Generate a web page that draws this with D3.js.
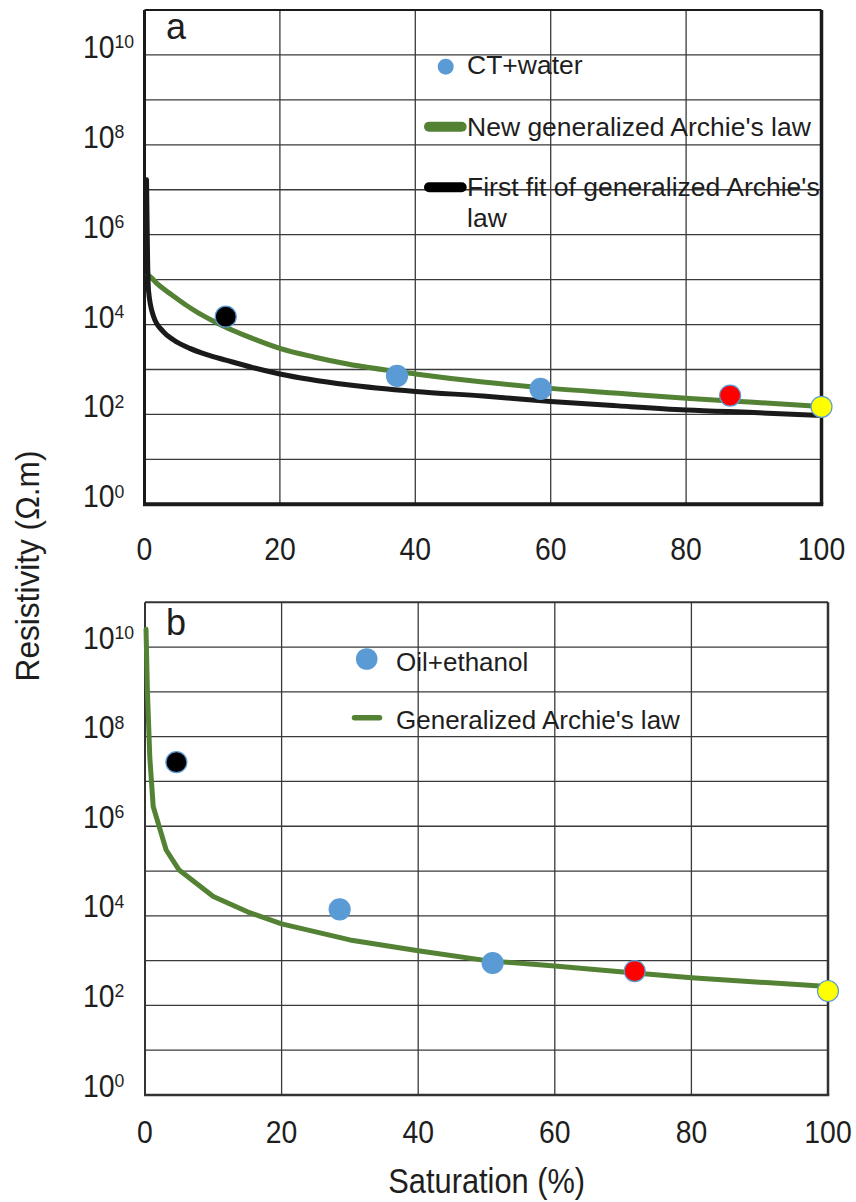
<!DOCTYPE html>
<html><head><meta charset="utf-8">
<script src="https://cdn.jsdelivr.net/npm/d3@7/dist/d3.min.js"></script>
<style>
body{margin:0;background:#fff}
svg{display:block}
text{font-family:"Liberation Sans",Arial,Helvetica,sans-serif;fill:#1e1e1e}
</style>
</head><body>
<svg id="chart" width="856" height="1202"></svg>
<script>
// ---------- data ----------
const xTickValues = [0, 20, 40, 60, 80, 100];
const yTickExponents = [0, 2, 4, 6, 8, 10];
const gridDecades = [1,2,3,4,5,6,7,8,9,10];
const gridSat = [20, 40, 60, 80];

// Panel a
const aPointSat   = [12, 37.3, 58.5, 86.5, 100];
const aPointRes   = [1.5e4, 720, 370, 263, 148];
const aPointColor = ["#000000", "#5b9bd5", "#5b9bd5", "#ff0000", "#ffff00"];
const aNewSat = [0.5, 1, 2, 4, 6, 8, 10, 12, 15, 20, 25, 30, 40, 50, 60, 70, 80, 90, 100];
const aNewRes = [1.26e5, 1.1e5, 7.8e4, 4.6e4, 2.8e4, 1.8e4, 1.23e4, 8.7e3, 5.6e3, 2.95e3, 1.9e3, 1.32e3, 795, 525, 380, 295, 229, 186, 151];
const aFirstSat = [0.3, 0.45, 0.6, 1.3, 2.8, 4.25, 6.7, 9.2, 12, 16, 20, 30, 40, 50, 60, 70, 80, 90, 100];
const aFirstRes = [1.66e7, 3.2e5, 5.6e4, 1.58e4, 6.9e3, 4.6e3, 2.95e3, 2.14e3, 1.62e3, 1.1e3, 795, 457, 324, 257, 195, 155, 126, 110, 95];

// Panel b
const bPointSat   = [4.6, 28.5, 50.9, 71.7, 100];
const bPointRes   = [2.7e7, 1.4e4, 884, 585, 210];
const bPointColor = ["#000000", "#5b9bd5", "#5b9bd5", "#ff0000", "#ffff00"];
const bGenSat = [0.15, 0.35, 0.7, 1.2, 3.1, 5, 10, 15, 20, 30, 40, 50, 60, 70, 80, 90, 100];
const bGenRes = [2.5e10, 1.1e9, 3.5e7, 2.75e6, 2.95e5, 1.05e5, 2.7e4, 1.23e4, 6.6e3, 2.9e3, 1.66e3, 1.0e3, 760, 560, 417, 331, 263];

// ---------- drawing ----------
const svg = d3.select("#chart");
const GREEN = "#548235", BLUE = "#5b9bd5";

function label(g, x, y, str, size, anchor, sx, rot) {
  return g.append("text")
    .attr("transform", `translate(${x},${y})` + (rot ? ` rotate(${rot})` : "") + ` scale(${sx||1},1)`)
    .attr("text-anchor", anchor || "start")
    .style("font-size", size + "px")
    .text(str);
}

function panel(cfg) {
  const g = svg.append("g");
  const x = d3.scaleLinear([0, 100], [cfg.x0, cfg.x1]);
  const y = d3.scaleLog([1, 1e11], [cfg.yb, cfg.yt]);

  // grid
  g.selectAll(".hg").data(gridDecades).join("line")
    .attr("x1", cfg.x0).attr("x2", cfg.x1)
    .attr("y1", d => y(Math.pow(10, d))).attr("y2", d => y(Math.pow(10, d)))
    .attr("stroke", "#3a3a3a").attr("stroke-width", 1.3);
  g.selectAll(".vg").data(gridSat).join("line")
    .attr("x1", d => x(d)).attr("x2", d => x(d))
    .attr("y1", cfg.yt).attr("y2", cfg.yb)
    .attr("stroke", "#3a3a3a").attr("stroke-width", 1.3);

  // frame
  const fr = cfg.frame;
  g.append("line").attr("x1", cfg.x0).attr("x2", cfg.x1).attr("y1", cfg.yt).attr("y2", cfg.yt)
    .attr("stroke", fr.color).attr("stroke-width", fr.top);
  g.append("line").attr("x1", cfg.x0).attr("x2", cfg.x0).attr("y1", cfg.yt).attr("y2", cfg.yb)
    .attr("stroke", fr.color).attr("stroke-width", fr.left);
  g.append("line").attr("x1", cfg.x1).attr("x2", cfg.x1).attr("y1", cfg.yt).attr("y2", cfg.yb)
    .attr("stroke", fr.color).attr("stroke-width", fr.right);
  g.append("line").attr("x1", cfg.x0 - fr.left/2).attr("x2", cfg.x1 + fr.right/2).attr("y1", cfg.yb).attr("y2", cfg.yb)
    .attr("stroke", fr.color).attr("stroke-width", fr.bottom);

  // y tick labels with superscripts
  yTickExponents.forEach(e => {
    const t = g.append("text")
      .attr("transform", `translate(83,${y(Math.pow(10, e)) + cfg.yLabOff}) scale(0.93,1)`)
      .style("font-size", "30.5px");
    t.append("tspan").text("10");
    t.append("tspan").attr("dy", -9.5).style("font-size", "19px").text(String(e));
  });
  // x tick labels
  xTickValues.forEach(v => label(g, x(v), cfg.xLabY, String(v), 30.5, "middle", 0.93));

  // curves
  cfg.curves.forEach(c => {
    const pts = c.sat.map((s, i) => [x(s), y(c.res[i])]);
    g.append("path")
      .attr("d", d3.line().curve(c.curve)(pts))
      .attr("fill", "none").attr("stroke", c.color).attr("stroke-width", 5)
      .attr("stroke-linejoin", "round").attr("stroke-linecap", "round");
  });

  // points
  g.selectAll(".pt").data(cfg.pSat).join("circle")
    .attr("cx", d => x(d)).attr("cy", (d, i) => y(cfg.pRes[i]))
    .attr("r", 10.5)
    .attr("fill", (d, i) => cfg.pCol[i])
    .attr("stroke", BLUE).attr("stroke-width", 1.2);

  // panel letter
  label(g, 166, cfg.letterY, cfg.letter, 36, "start");
  return { g, x, y };
}

panel({
  x0: 144.5, x1: 821.5, yt: 10, yb: 504.3, yLabOff: 3, xLabY: 559.5,
  frame: { color: "#1a1a1a", top: 2, left: 3, right: 3.5, bottom: 4 },
  curves: [
    { sat: aNewSat, res: aNewRes, color: GREEN, curve: d3.curveMonotoneX },
    { sat: aFirstSat, res: aFirstRes, color: "#1a1a1a", curve: d3.curveMonotoneX }
  ],
  pSat: aPointSat, pRes: aPointRes, pCol: aPointColor,
  letter: "a", letterY: 38.5
});

panel({
  x0: 145, x1: 828, yt: 602.3, yb: 1095, yLabOff: 1.5, xLabY: 1143.3,
  frame: { color: "#333", top: 2, left: 2, right: 2.5, bottom: 2.5 },
  curves: [
    { sat: bGenSat, res: bGenRes, color: GREEN, curve: d3.curveLinear }
  ],
  pSat: bPointSat, pRes: bPointRes, pCol: bPointColor,
  letter: "b", letterY: 635
});

// legend a
const la = svg.append("g");
la.append("circle").attr("cx", 445.7).attr("cy", 66.7).attr("r", 8).attr("fill", BLUE);
label(la, 467, 74, "CT+water", 26.5, "start");
la.append("line").attr("x1", 429).attr("x2", 461.7).attr("y1", 126.7).attr("y2", 126.7)
  .attr("stroke", GREEN).attr("stroke-width", 10).attr("stroke-linecap", "round");
label(la, 467, 135.5, "New generalized Archie's law", 26.5, "start");
la.append("line").attr("x1", 429).attr("x2", 461.7).attr("y1", 187.3).attr("y2", 187.3)
  .attr("stroke", "#000").attr("stroke-width", 10).attr("stroke-linecap", "round");
label(la, 467, 196, "First fit of generalized Archie's", 26.5, "start");
label(la, 467, 226.5, "law", 26.5, "start");

// legend b
const lb = svg.append("g");
lb.append("circle").attr("cx", 366.7).attr("cy", 659).attr("r", 10.8).attr("fill", BLUE);
label(lb, 396, 671, "Oil+ethanol", 26, "start");
lb.append("line").attr("x1", 354.5).attr("x2", 379.5).attr("y1", 717.7).attr("y2", 717.7)
  .attr("stroke", GREEN).attr("stroke-width", 5.5).attr("stroke-linecap", "round");
label(lb, 396, 728.5, "Generalized Archie's law", 26, "start");

// axis titles
label(svg, 39.3, 566, "Resistivity (\u03A9.m)", 34, "middle", 0.93, -90);
label(svg, 486.7, 1193.3, "Saturation (%)", 35, "middle", 0.88);
</script>
</body></html>
